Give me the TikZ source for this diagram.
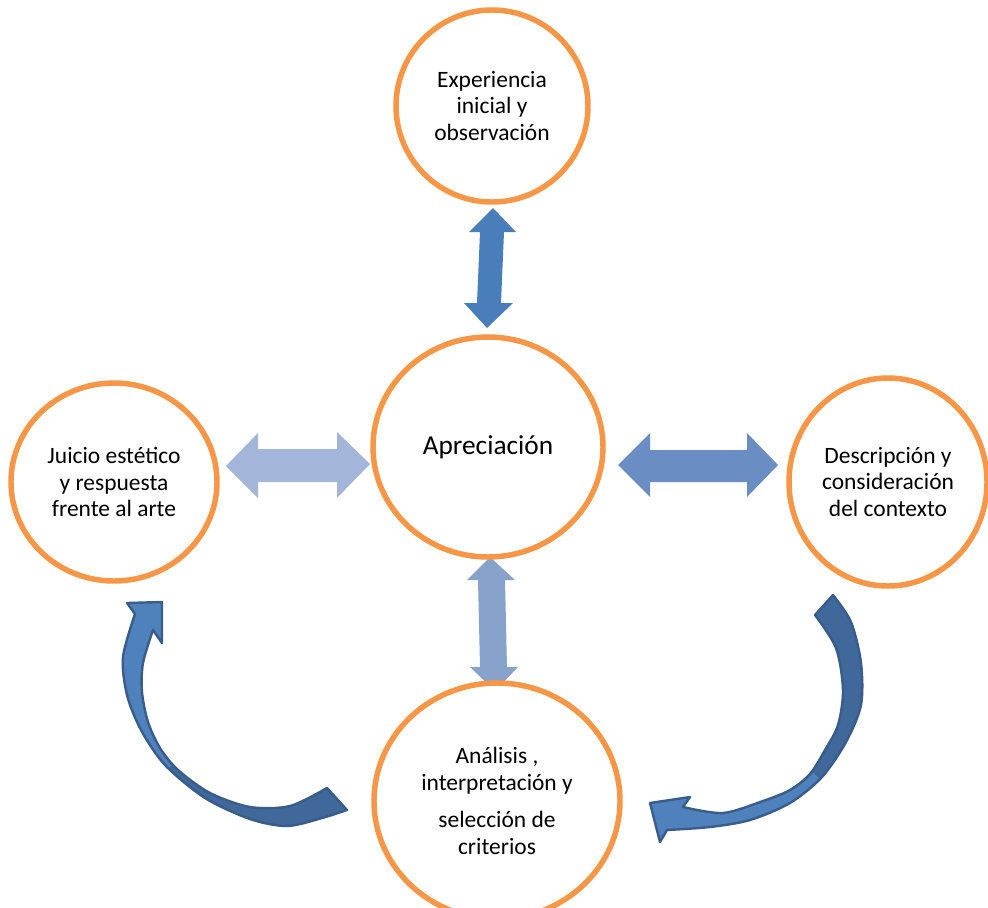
\documentclass[tikz,border=0pt]{standalone}
\usepackage{fontspec}
\setmainfont{Carlito}
\usetikzlibrary{shapes.geometric}
\definecolor{circorange}{HTML}{F79646}
\definecolor{arrowtop}{HTML}{4A7EBB}
\definecolor{arrowright}{HTML}{6A8EC4}
\definecolor{arrowbottom}{HTML}{87A2CB}
\definecolor{arrowleft}{HTML}{A3B5D8}
\definecolor{ribbonfront}{HTML}{4F81BD}
\definecolor{ribbonback}{HTML}{41689A}
\definecolor{ribbonedge}{HTML}{385D8A}
\newcommand\leftribbon{(162,602) -- (162,643) -- (153,630)
  -- plot[smooth] coordinates {(153,630) (143,663) (142,692) (148,722) (160,748) (178,770) (210,793) (250,807) (290,806) (327,788)}
  -- (347,810)
  -- plot[smooth] coordinates {(347,810) (322,818) (287,826) (250,819) (205,798) (165,765) (141,730) (127,695) (123,657) (135,614)}
  -- (127,603) -- cycle}
\newcommand\rightribbon{(650,803) -- (690,797) -- (683,807)
  -- plot[smooth] coordinates {(683,807) (723,813) (763,801) (790,790) (810,774) (825,750) (838,725) (843,690) (836,648) (815,615)}
  -- (833,595)
  -- plot[smooth] coordinates {(833,595) (851,622) (861,663) (861,705) (846,742) (822,777) (790,803) (750,820) (710,827) (667,830)}
  -- (660,842) -- cycle}
\begin{document}
\begin{tikzpicture}[x=0.75pt,y=-0.75pt,
  circ/.style={ellipse, draw=circorange, line width=4.1pt, fill=white,
    inner sep=0pt, align=center, font=\fontsize{17.6}{19.8}\selectfont},
  blockarrow/.style={fill=#1, draw=none},
  ribbonline/.style={draw=ribbonedge, line width=1.8pt, line join=round}]
\useasboundingbox (0,0) rectangle (988,907);
\clip (0,0) rectangle (988,907);
\fill[white] (0,0) rectangle (988,907);

% straight double arrows
\fill[blockarrow=arrowtop] (493,208) -- (516,232) -- (504,232) -- (501,303) -- (513,303) -- (487,328) -- (464,303) -- (477,303) -- (480,232) -- (469,232) -- cycle;
\fill[blockarrow=arrowbottom] (490,557) -- (515,580) -- (505,580) -- (507,667) -- (518,667) -- (495,691) -- (470,667) -- (480,667) -- (478,580) -- (467,580) -- cycle;
\fill[blockarrow=arrowleft] (226,466) -- (258,433) -- (258,449) -- (337,449) -- (337,432) -- (370,464) -- (337,498) -- (337,482) -- (258,482) -- (258,498) -- cycle;
\fill[blockarrow=arrowright] (618,465) -- (650,433) -- (650,450) -- (747,450) -- (747,433) -- (778,465) -- (747,497) -- (747,482) -- (650,482) -- (650,497) -- cycle;

% left curved arrow
\fill[ribbonfront] \leftribbon;
\begin{scope}
  \clip (150,787) -- (190,747) -- (400,747) -- (400,907) -- (150,907) -- cycle;
  \fill[ribbonback] \leftribbon;
\end{scope}
\draw[ribbonline] \leftribbon;

% right curved arrow
\fill[ribbonfront] \rightribbon;
\begin{scope}
  \clip (796,755) -- (836,795) -- (988,795) -- (988,580) -- (796,580) -- cycle;
  \fill[ribbonback] \rightribbon;
\end{scope}
\draw[ribbonline] \rightribbon;

% circles
\node[circ, minimum width=144pt, minimum height=144pt] (exp) at (492,106) {Experiencia\\inicial y\\observación};
\node[circ, minimum width=172.5pt, minimum height=165pt, font=\fontsize{20.5}{24}\selectfont] (apr) at (488,447) {Apreciación};
\node[circ, minimum width=154.5pt, minimum height=148.5pt] (jui) at (114,482) {Juicio estético\\y respuesta\\frente al arte};
\node[circ, minimum width=148.5pt, minimum height=156pt] (des) at (888,482) {Descripción y\\consideración\\del contexto};
\node[circ, minimum width=184.5pt, minimum height=177pt, font=\fontsize{17.6}{20.25}\selectfont] (ana) at (497,801) {Análisis ,\\interpretación y\\[7.5pt]selección de\\criterios};
\end{tikzpicture}
\end{document}
